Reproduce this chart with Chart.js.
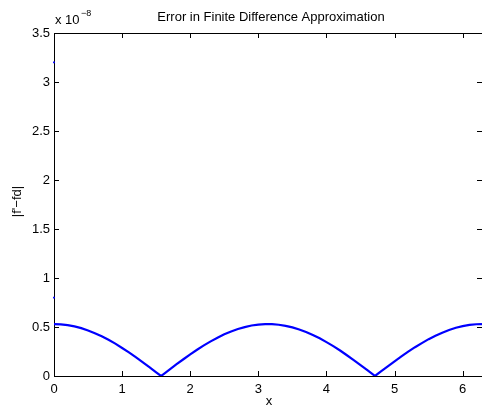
<!DOCTYPE html>
<html>
<head>
<meta charset="utf-8">
<script src="https://cdn.jsdelivr.net/npm/chart.js@4"></script>
<style>
  html, body { margin: 0; padding: 0; background: #fff; overflow: hidden; }
  #wrap { width: 486px; height: 413px; }
</style>
</head>
<body>
<div id="wrap"><canvas id="chart" width="486" height="413"></canvas></div>
<script>
'use strict';

// |f' - fd| in units of 1e-8
const xs = [0, 0.1, 0.2, 0.3, 0.4, 0.5, 0.6, 0.7, 0.8, 0.9, 1.0, 1.1, 1.2, 1.3, 1.4, 1.5, 1.571,
  1.6, 1.7, 1.8, 1.9, 2.0, 2.1, 2.2, 2.3, 2.4, 2.5, 2.6, 2.7, 2.8, 2.9, 3.0, 3.1, 3.2, 3.3, 3.4,
  3.5, 3.6, 3.7, 3.8, 3.9, 4.0, 4.1, 4.2, 4.3, 4.4, 4.5, 4.6, 4.7, 4.712, 4.8, 4.9, 5.0, 5.1,
  5.2, 5.3, 5.4, 5.5, 5.6, 5.7, 5.8, 5.9, 6.0, 6.1, 6.2, 6.283];
const errs = [0.530, 0.527, 0.519, 0.506, 0.488, 0.465, 0.437, 0.405, 0.369, 0.330, 0.286, 0.241,
  0.192, 0.142, 0.090, 0.037, 0.000, 0.015, 0.068, 0.120, 0.171, 0.221, 0.268, 0.312, 0.353,
  0.391, 0.425, 0.454, 0.479, 0.499, 0.515, 0.525, 0.530, 0.529, 0.523, 0.512, 0.496, 0.475,
  0.449, 0.419, 0.385, 0.346, 0.305, 0.260, 0.212, 0.163, 0.112, 0.059, 0.007, 0.000, 0.046,
  0.099, 0.150, 0.200, 0.248, 0.294, 0.336, 0.376, 0.411, 0.442, 0.469, 0.492, 0.509, 0.521,
  0.528, 0.530];

// stray points near x = 0
const outX = [0, 0];
const outY = [3.2, 0.8];

const xTicks = [0, 1, 2, 3, 4, 5, 6];
const yTicks = [0, 0.5, 1, 1.5, 2, 2.5, 3, 3.5];

const titleText = 'Error in Finite Difference Approximation';
const xLabel = 'x';
const yLabel = "|f'\u2212fd|";

const FONT = 'Liberation Sans, Arial, sans-serif';

// MATLAB-style box with inward ticks plus the text around it
const matlabFrame = {
  id: 'matlabFrame',
  beforeDatasetsDraw(chart) {
    const { ctx, chartArea: a, scales } = chart;
    const sx = scales.x, sy = scales.y;
    ctx.save();
    ctx.strokeStyle = '#000';
    ctx.lineWidth = 1;
    ctx.beginPath();
    ctx.moveTo(a.left + 0.5, a.bottom + 0.5);
    ctx.lineTo(a.left + 0.5, a.top + 0.5);
    ctx.lineTo(a.right + 0.5, a.top + 0.5);
    ctx.lineTo(a.right + 0.5, a.bottom + 0.5);
    ctx.lineTo(a.left + 0.5, a.bottom + 0.5);
    xTicks.forEach(v => {
      const p = Math.round(sx.getPixelForValue(v)) + 0.5;
      ctx.moveTo(p, a.bottom); ctx.lineTo(p, a.bottom - 5);
      ctx.moveTo(p, a.top); ctx.lineTo(p, a.top + 5);
    });
    yTicks.forEach(v => {
      const p = Math.round(sy.getPixelForValue(v)) + 0.5;
      ctx.moveTo(a.left, p); ctx.lineTo(a.left + 5, p);
      ctx.moveTo(a.right, p); ctx.lineTo(a.right - 5, p);
    });
    ctx.stroke();

    ctx.fillStyle = '#000';
    ctx.textBaseline = 'middle';
    ctx.textAlign = 'center';
    ctx.font = '13px ' + FONT;
    ctx.fillText(titleText, 271, 17);
    ctx.font = '13px ' + FONT;
    ctx.fillText(xLabel, 269, 401);

    ctx.textAlign = 'left';
    ctx.font = '13px ' + FONT;
    ctx.fillText('x 10', a.left + 1, 20);
    ctx.font = '9px ' + FONT;
    ctx.fillText('\u22128', a.left + 27, 14);

    ctx.translate(17, (a.top + a.bottom) / 2 - 3);
    ctx.rotate(-Math.PI / 2);
    ctx.textAlign = 'center';
    ctx.font = '13px ' + FONT;
    ctx.fillText(yLabel, 0, 0);
    ctx.restore();
  }
};

new Chart(document.getElementById('chart'), {
  type: 'scatter',
  data: {
    datasets: [
      {
        data: xs.map((x, i) => ({ x, y: errs[i] })),
        showLine: true,
        borderColor: '#0000ff',
        borderWidth: 2.2,
        pointRadius: 0,
        tension: 0,
      },
      {
        data: outX.map((x, i) => ({ x, y: outY[i] })),
        showLine: false,
        backgroundColor: '#0000ff',
        borderColor: '#0000ff',
        pointStyle: 'rect',
        pointRadius: 1.3,
        borderWidth: 0,
        clip: false,
      },
    ],
  },
  options: {
    responsive: false,
    animation: false,
    layout: { padding: { top: 33, right: 2, left: 0, bottom: 0 } },
    plugins: { legend: { display: false }, tooltip: { enabled: false }, title: { display: false } },
    scales: {
      x: {
        type: 'linear',
        min: 0,
        max: 6.2832,
        afterFit: s => { s.height = 37; },
        grid: { display: false, drawTicks: false },
        border: { display: false },
        ticks: {
          stepSize: 1,
          includeBounds: false,
          color: '#000',
          padding: 6,
          maxRotation: 0,
          font: { family: FONT, size: 13 },
        },
      },
      y: {
        min: 0,
        max: 3.5,
        afterFit: s => { s.width = 54; },
        grid: { display: false, drawTicks: false },
        border: { display: false },
        ticks: {
          stepSize: 0.5,
          color: '#000',
          padding: 4,
          font: { family: FONT, size: 13 },
          callback: v => String(Math.round(v * 10) / 10),
        },
      },
    },
  },
  plugins: [matlabFrame],
});
</script>
</body>
</html>
